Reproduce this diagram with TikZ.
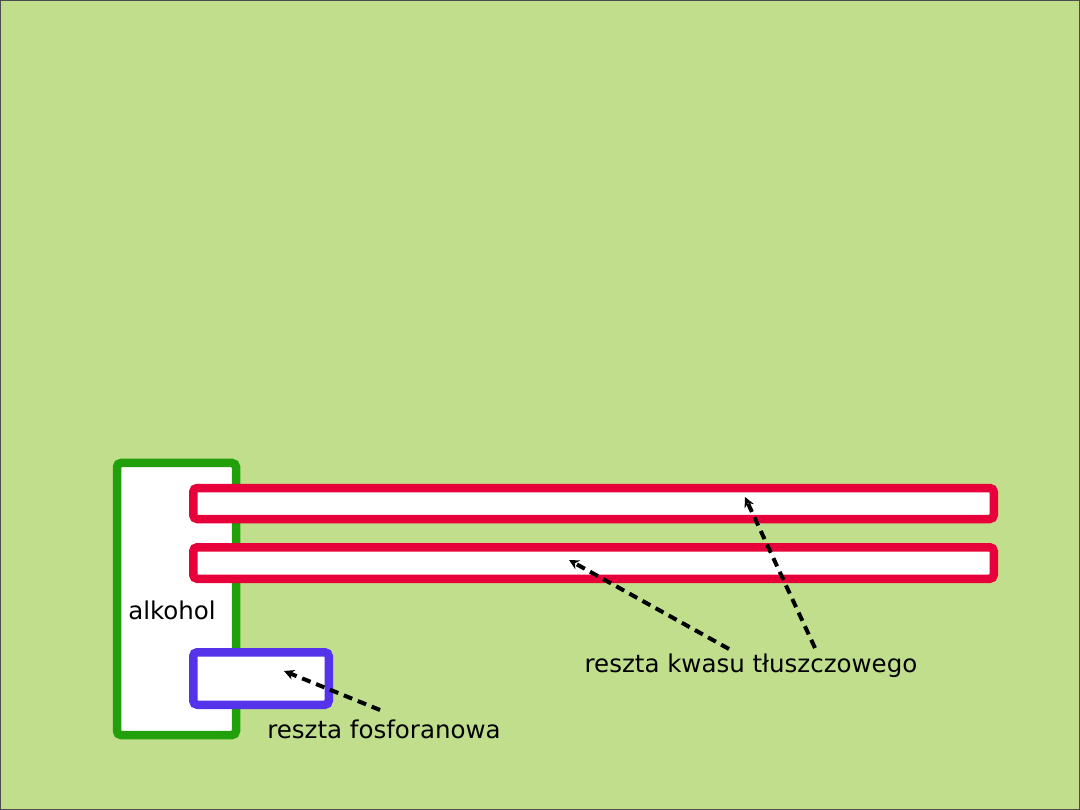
\documentclass[tikz,border=0pt]{standalone}
\usepackage{fontspec}
\setmainfont{DejaVu Sans}
\usetikzlibrary{arrows.meta}
\definecolor{bg}{HTML}{C1DE8D}
\definecolor{alkgreen}{HTML}{22A00C}
\definecolor{acidred}{HTML}{E8003A}
\definecolor{phosblue}{HTML}{5533EA}
\tikzset{
  part/.style={draw, fill=white, line width=8.5pt, rounded corners=4pt, inner sep=0pt, outer sep=0pt},
  lbl/.style={inner sep=0pt, font=\fontsize{24.5}{28}\selectfont, text=black},
  pointer/.style={dashed, dash pattern=on 9pt off 6pt, line width=4pt, black, -{Stealth[length=10pt,width=10pt]}}
}
\begin{document}
\begin{tikzpicture}[x=1pt,y=-1pt]
\useasboundingbox (0,0) rectangle (1080,810);
\fill[bg] (0,0) rectangle (1080,810);
\draw[black!70, line width=1.5pt] (0,0) rectangle (1080,810);
% parts
\node[part, draw=alkgreen, minimum width=119pt, minimum height=272pt] (alk) at (176.5,599) {};
\node[part, draw=acidred, minimum width=800.5pt, minimum height=31pt] (acid1) at (593.5,503.5) {};
\node[part, draw=acidred, minimum width=800.5pt, minimum height=31.5pt] (acid2) at (593.5,563) {};
\node[part, draw=phosblue, minimum width=135.5pt, minimum height=52.5pt] (phos) at (261,678.5) {};
% labels
\node[lbl] (alklbl) at (172,610) {alkohol};
\node[lbl] (phoslbl) at (384,729) {reszta fosforanowa};
\node[lbl] (acidlbl) at (751,666) {reszta kwasu tłuszczowego};
% pointer ends
\coordinate (p1s) at (380,710);
\coordinate (p1e) at (284,671);
\coordinate (p2s) at (729,649);
\coordinate (p2e) at (569,560);
\coordinate (p3s) at (815,648);
\coordinate (p3e) at (745,497);
\draw[pointer] (p1s) -- (p1e);
\draw[pointer] (p2s) -- (p2e);
\draw[pointer] (p3s) -- (p3e);
\end{tikzpicture}
\end{document}
